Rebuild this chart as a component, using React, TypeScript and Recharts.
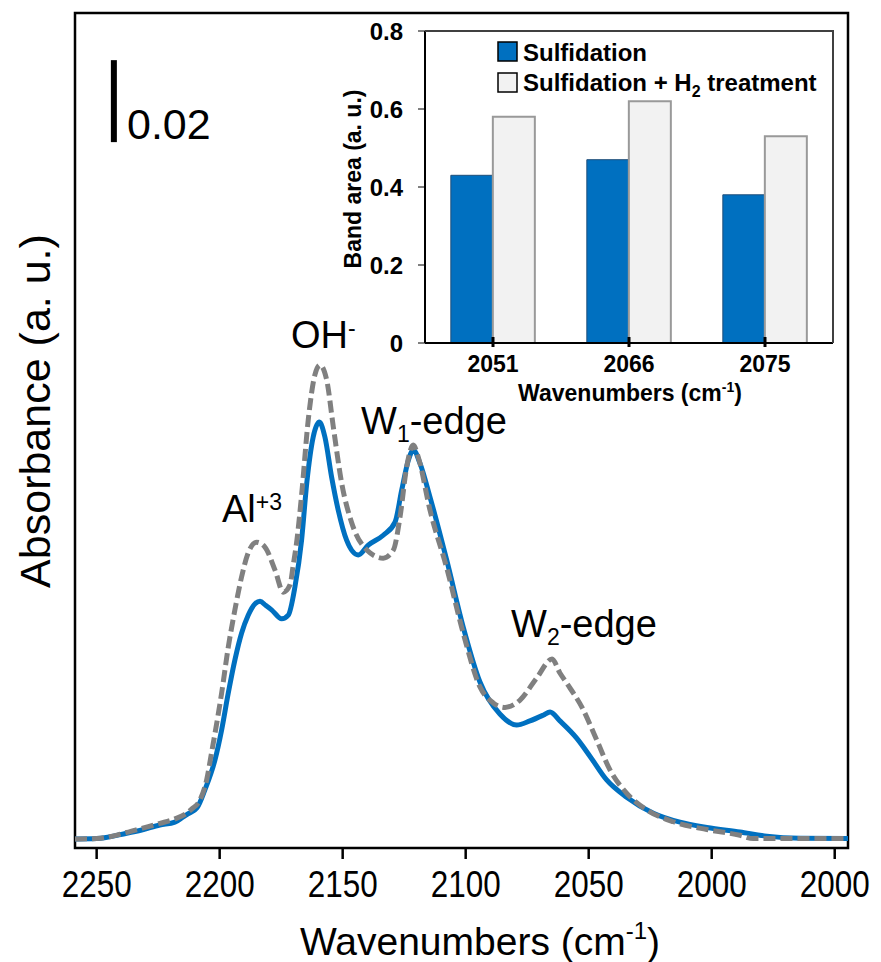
import React from 'react';
import {
  LineChart,
  Line,
  XAxis,
  YAxis,
  ReferenceArea,
  ReferenceLine,
  BarChart,
  Bar,
  Legend,
} from 'recharts';

const FONT = '"Liberation Sans", Arial, Helvetica, sans-serif';

// ---------- main spectrum data ----------
const wnBlue = [2258.8, 2250, 2237.8, 2231.7, 2224.3, 2218.2, 2214.8, 2212.9, 2209.2, 2206.0, 2201.9, 2199.2, 2196.5, 2193.8, 2191.1, 2188.4, 2185.6, 2183.6, 2181.3, 2178.9, 2174.8, 2172.1, 2169.4, 2166.7, 2164.6, 2162.0, 2159.5, 2157.2, 2154.5, 2151.8, 2148.4, 2143.7, 2139.6, 2133.5, 2128.7, 2126.0, 2123.3, 2121.3, 2118.6, 2114.5, 2107.7, 2101.0, 2094.2, 2086.1, 2079.3, 2073.9, 2068.5, 2065.7, 2061.7, 2054.9, 2049.5, 2042.7, 2034.6, 2023.7, 2012.9, 2002.0, 1988.5, 1977.6, 1964.1, 1944.6];
const absBlue = [0, 0.0001, 0.0014, 0.0022, 0.0034, 0.0041, 0.0054, 0.0061, 0.0076, 0.0120, 0.0193, 0.0266, 0.0356, 0.0437, 0.0502, 0.0546, 0.0574, 0.0580, 0.0570, 0.0559, 0.0537, 0.0546, 0.0615, 0.0729, 0.0868, 0.0980, 0.1017, 0.0980, 0.0883, 0.0802, 0.0729, 0.0693, 0.0717, 0.0741, 0.0773, 0.0851, 0.0924, 0.0949, 0.0917, 0.0834, 0.0680, 0.0517, 0.0383, 0.0305, 0.0278, 0.0288, 0.0302, 0.0310, 0.0288, 0.0246, 0.0202, 0.0144, 0.0102, 0.0063, 0.0041, 0.0028, 0.0017, 0.0007, 0.0002, 0.0001];

const wnGray = [2258.8, 2250, 2237.8, 2231.7, 2224.3, 2218.2, 2213.4, 2211.4, 2208.0, 2205.3, 2203.3, 2199.2, 2196.5, 2193.8, 2191.1, 2188.4, 2185.0, 2181.6, 2177.5, 2174.1, 2171.4, 2170.1, 2168.6, 2166.7, 2164.0, 2161.3, 2159.2, 2156.5, 2153.8, 2150.4, 2146.3, 2140.2, 2133.5, 2129.4, 2126.7, 2124.0, 2121.3, 2119.3, 2114.5, 2107.7, 2101.0, 2094.2, 2088.8, 2084.0, 2077.9, 2071.1, 2064.9, 2061.7, 2058.9, 2052.2, 2046.7, 2041.3, 2034.6, 2026.4, 2015.6, 2002.0, 1988.5, 1983.1, 1944.6];
const absGray = [0, 0.0001, 0.0016, 0.0026, 0.0038, 0.0049, 0.0063, 0.0073, 0.0095, 0.0144, 0.0210, 0.0356, 0.0468, 0.0559, 0.0639, 0.0698, 0.0724, 0.0712, 0.0656, 0.0602, 0.0620, 0.0668, 0.0729, 0.0839, 0.1022, 0.1132, 0.1156, 0.1120, 0.1005, 0.0868, 0.0771, 0.0705, 0.0685, 0.0705, 0.0785, 0.0907, 0.0961, 0.0932, 0.0802, 0.0661, 0.0502, 0.0371, 0.0332, 0.0321, 0.0339, 0.0393, 0.0439, 0.0405, 0.0380, 0.0315, 0.0241, 0.0168, 0.0112, 0.0071, 0.0042, 0.0023, 0.0009, 0.0001, 0.0001];

const mainTicks = [2250, 2200, 2150, 2100, 2050, 2000, 1950];
const mainTickLabels = ['2250', '2200', '2150', '2100', '2050', '2000', '2000'];
const xDomain: [number, number] = [1944.6, 2258.8];
const yDomain: [number, number] = [-0.0022, 0.2015];
const scaleBarWn = 2243.0;
const scaleBarRange = [0.17, 0.19];

// ---------- inset data ----------
const bandCats = ['2051', '2066', '2075'];
const sulfArea = [0.43, 0.47, 0.38];
const sulfH2Area = [0.58, 0.62, 0.53];
const insetTicks = [0, 0.2, 0.4, 0.6, 0.8];

const blueData = wnBlue.map((w, i) => ({ wn: w, a: absBlue[i] }));
const grayData = wnGray.map((w, i) => ({ wn: w, a: absGray[i] }));
const barData = bandCats.map((c, i) => ({ cat: c, s: sulfArea[i], h: sulfH2Area[i] }));

const MainTick = (props: any) => {
  const { x, y, payload } = props;
  const i = mainTicks.indexOf(payload.value);
  return (
    <text
      transform={`translate(${x},${y + 38}) scale(0.85,1)`}
      textAnchor="middle"
      fontFamily={FONT}
      fontSize={37}
      fill="#000"
    >
      {mainTickLabels[i]}
    </text>
  );
};

const InsetTick = (props: any) => {
  const { x, y, payload } = props;
  return (
    <g>
      <line x1={x} x2={x} y1={y - 6} y2={y + 4} stroke="#000" strokeWidth={3} />
      <text x={x} y={y + 29} textAnchor="middle" fontFamily={FONT} fontWeight="bold" fontSize={23} fill="#000">
        {payload.value}
      </text>
    </g>
  );
};

const renderLegend = () => (
  <svg width={340} height={60} style={{ display: 'block', overflow: 'visible' }}>
    <rect x={1} y={2} width={19} height={19} fill="#0070C0" stroke="#000" strokeWidth={1.5} />
    <text x={26} y={21} fontFamily={FONT} fontWeight="bold" fontSize={24} fill="#000">Sulfidation</text>
    <rect x={1} y={33} width={19} height={19} fill="#F2F2F2" stroke="#000" strokeWidth={1.5} />
    <text x={26} y={51} fontFamily={FONT} fontWeight="bold" fontSize={24} fill="#000">
      Sulfidation + H<tspan fontSize={16} dy={6}>2</tspan><tspan dy={-6}> treatment</tspan>
    </text>
  </svg>
);

export default function App() {
  return (
    <div style={{ position: 'absolute', left: 0, top: 0, width: 881, height: 962, background: '#fff' }}>
      <div style={{ position: 'absolute', left: 0, top: 0 }}>
        <LineChart width={881} height={962} margin={{ top: 13, right: 33, left: 75, bottom: 0 }}>
          <XAxis
            type="number"
            dataKey="wn"
            domain={xDomain}
            reversed
            allowDataOverflow
            ticks={mainTicks}
            tick={<MainTick />}
            tickSize={11}
            tickMargin={0}
            tickLine={{ stroke: '#000', strokeWidth: 2.5 }}
            axisLine={false}
            height={114}
            interval={0}
          />
          <YAxis type="number" dataKey="a" domain={yDomain} allowDataOverflow hide />
          <ReferenceArea
            x1={xDomain[0]}
            x2={xDomain[1]}
            y1={yDomain[0]}
            y2={yDomain[1]}
            fill="none"
            fillOpacity={0}
            stroke="#000"
            strokeWidth={2.5}
            ifOverflow="visible"
          />
          <ReferenceLine
            segment={[
              { x: scaleBarWn, y: scaleBarRange[0] },
              { x: scaleBarWn, y: scaleBarRange[1] },
            ]}
            stroke="#000"
            strokeWidth={6}
            ifOverflow="visible"
          />
          <Line
            data={blueData}
            dataKey="a"
            type="monotone"
            stroke="#0070C0"
            strokeWidth={5}
            dot={false}
            activeDot={false}
            isAnimationActive={false}
          />
          <Line
            data={grayData}
            dataKey="a"
            type="monotone"
            stroke="#808080"
            strokeWidth={5}
            strokeDasharray="12 5"
            dot={false}
            activeDot={false}
            isAnimationActive={false}
          />
        </LineChart>
      </div>

      <div style={{ position: 'absolute', left: 0, top: 0 }}>
        <BarChart
          width={881}
          height={420}
          data={barData}
          margin={{ top: 31, right: 48, left: 365, bottom: 17 }}
          barCategoryGap="19%"
          barGap={0}
        >
          <XAxis
            dataKey="cat"
            type="category"
            height={60}
            tick={<InsetTick />}
            tickLine={false}
            tickSize={0}
            tickMargin={0}
            axisLine={{ stroke: '#000', strokeWidth: 2 }}
            interval={0}
          />
          <YAxis
            type="number"
            domain={[0, 0.8]}
            ticks={insetTicks}
            width={60}
            tickFormatter={(v: number) => (v === 0 ? '0' : v.toFixed(1))}
            tick={{ fontFamily: FONT, fontWeight: 'bold', fontSize: 24, fill: '#000' }}
            tickSize={7}
            tickMargin={15}
            tickLine={{ stroke: '#000', strokeWidth: 1 }}
            axisLine={{ stroke: '#000', strokeWidth: 2 }}
            interval={0}
          />
          <Legend
            content={renderLegend}
            layout="horizontal"
            verticalAlign="middle"
            align="center"
            wrapperStyle={{ left: 497, top: 40, width: 340 }}
          />
          <Bar dataKey="s" name="Sulfidation" fill="#0070C0" stroke="#1F4E79" strokeWidth={1} isAnimationActive={false} />
          <Bar dataKey="h" name="Sulfidation + H2 treatment" fill="#F2F2F2" stroke="#999999" strokeWidth={2} isAnimationActive={false} />
        </BarChart>
      </div>

      <svg
        width={881}
        height={962}
        style={{ position: 'absolute', left: 0, top: 0, pointerEvents: 'none' }}
      >
        {/* inset frame top / right */}
        <line x1={425} x2={833} y1={31} y2={31} stroke="#404040" strokeWidth={2} />
        <line x1={833} x2={833} y1={30} y2={343} stroke="#404040" strokeWidth={2} />

        {/* main axis titles */}
        <text x={480} y={955} textAnchor="middle" fontFamily={FONT} fontSize={39} fill="#000">
          Wavenumbers (cm<tspan fontSize={24} dy={-16}>-1</tspan><tspan dy={16}>)</tspan>
        </text>
        <text transform="translate(50,411) rotate(-90)" textAnchor="middle" fontFamily={FONT} fontSize={43} fill="#000">
          Absorbance (a. u.)
        </text>

        {/* scale bar label */}
        <text x={127} y={139} fontFamily={FONT} fontSize={43} fill="#000">0.02</text>

        {/* peak annotations */}
        <text x={222} y={522} fontFamily={FONT} fontSize={38} fill="#000">
          Al<tspan fontSize={23} dy={-12}>+3</tspan>
        </text>
        <text x={291} y={348} fontFamily={FONT} fontSize={38} fill="#000">
          OH<tspan fontSize={23} dy={-12}>-</tspan>
        </text>
        <text x={361} y={434} fontFamily={FONT} fontSize={38} fill="#000">
          W<tspan fontSize={23} dy={8}>1</tspan><tspan dy={-8}>-edge</tspan>
        </text>
        <text x={511} y={637} fontFamily={FONT} fontSize={38} fill="#000">
          W<tspan fontSize={23} dy={8}>2</tspan><tspan dy={-8}>-edge</tspan>
        </text>

        {/* inset axis titles */}
        <text x={630} y={401} textAnchor="middle" fontFamily={FONT} fontWeight="bold" fontSize={23} fill="#000">
          Wavenumbers (cm<tspan fontSize={14} dy={-9}>-1</tspan><tspan dy={9}>)</tspan>
        </text>
        <text transform="translate(361,179) rotate(-90)" textAnchor="middle" fontFamily={FONT} fontWeight="bold" fontSize={23} fill="#000">
          Band area (a. u.)
        </text>
      </svg>
    </div>
  );
}
